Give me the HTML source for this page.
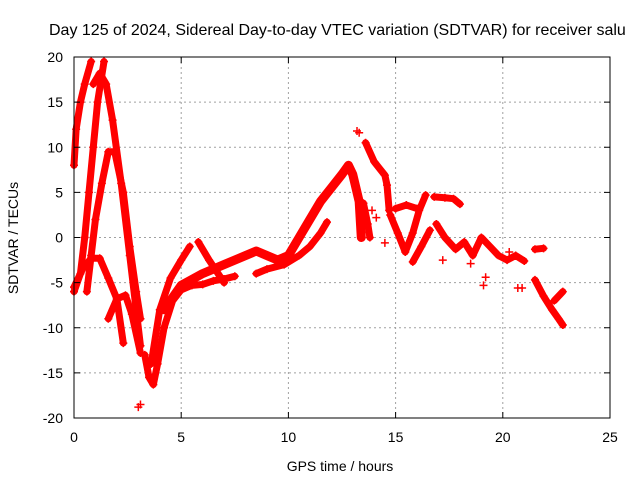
<!DOCTYPE html>
<html><head><meta charset="utf-8"><style>
body{margin:0;background:#fff}
svg{display:block;font-family:"Liberation Sans",Arial,sans-serif}
</style></head><body>
<svg id="chart" width="640" height="480" viewBox="0 0 640 480">
<rect width="640" height="480" fill="#fff"/>
<text x="49" y="35" font-size="16" fill="#000">Day 125 of 2024, Sidereal Day-to-day VTEC variation (SDTVAR) for receiver salu</text>
<g id="grid"></g>
<g id="series"></g>
<rect x="74" y="57" width="536" height="361" fill="none" stroke="#000" stroke-width="1"/>
<g id="ticks"></g>
<text x="340" y="471" font-size="14" text-anchor="middle">GPS time / hours</text>
<text transform="translate(18,238) rotate(-90)" font-size="14" text-anchor="middle">SDTVAR / TECUs</text>
</svg>
<script>
const xTicks=[0,5,10,15,20,25];
const yTicks=[-20,-15,-10,-5,0,5,10,15,20];
const trackA=[[0,8],[0.1,12],[0.3,15],[0.5,17],[0.8,19.5]];
const trackB=[[0,-6],[0.3,-4],[0.5,0],[0.7,5],[0.9,10],[1.1,15],[1.4,19.5]];
const trackC=[[0.9,17],[1.2,18.2],[1.5,17],[1.8,13],[2.2,6],[2.6,-2],[2.9,-8],[3.1,-12]];
const trackD=[[0.6,-6],[0.8,-2],[1.0,2],[1.3,6],[1.6,9.5],[1.9,9.5],[2.3,5],[2.6,-1],[2.9,-6],[3.1,-9]];
const trackE=[[0,-5.5],[0.4,-3.5],[0.8,-2.3],[1.2,-2.3],[1.6,-4.5],[2.0,-6.8],[2.4,-6.4],[2.7,-8.5],[3.1,-12.8]];
const trackF=[[1.6,-9],[2.0,-6.8],[2.3,-11.7]];
const trackV=[[3.3,-13],[3.5,-15.5],[3.7,-16.3],[3.9,-14],[4.2,-10],[4.6,-7],[5.0,-5.8],[5.5,-5.3],[6,-5.2],[6.5,-4.8],[7,-4.6],[7.5,-4.3]];
const trackW=[[3.6,-14],[4.0,-8],[4.5,-4.5],[5.0,-2.5],[5.4,-1]];
const trackU=[[4.2,-8],[5,-5.3],[6,-4],[7,-3],[8,-2],[8.5,-1.5],[9,-2],[9.5,-2.5],[10,-2],[10.5,0],[11,2],[11.5,4],[12,5.5],[12.5,7],[12.8,8],[13,7],[13.3,4],[13.4,0]];
const trackL=[[8.5,-4],[9,-3.5],[9.8,-3],[10.5,-2],[11,-1],[11.5,0.5],[11.8,1.7]];
const trackX=[[5.8,-0.5],[6.3,-2.5],[7,-5]];
const trackR1=[[13.6,10.5],[14.0,8.4],[14.5,6.9],[14.6,5.8],[14.7,3]];
const trackR2=[[13.5,3.8],[13.7,1.5],[13.8,0]];
const trackR3=[[14.75,2.5],[15.1,0.5],[15.45,-1.6],[15.8,0.5],[16.1,3],[16.4,4.7]];
const trackR4=[[15.0,3.2],[15.5,3.6],[16.0,3.2]];
const trackR5=[[15.8,-2.7],[16.2,-1],[16.6,0.8]];
const trackR6=[[16.8,4.5],[17.3,4.4],[17.7,4.3],[18,3.7]];
const trackR7=[[16.9,1.5],[17.3,0],[17.8,-1.3],[18.2,-0.5],[18.6,-2],[19,0],[19.4,-1],[19.8,-2],[20.2,-2.5],[20.6,-2],[21,-2.6]];
const trackR8=[[21.5,-1.3],[21.9,-1.2]];
const trackR9=[[21.5,-4.7],[21.9,-6.5],[22.3,-8],[22.6,-9],[22.8,-9.7]];
const trackR10=[[22.4,-7],[22.8,-6]];
const dots=[[3.0,-18.8],[3.1,-18.5],[13.2,11.8],[13.3,11.6],[14.5,-0.6],[19.1,-5.3],[19.2,-4.4],[20.7,-5.6],[20.9,-5.6],[13.9,3],[14.1,2.2],[17.2,-2.5],[18.5,-2.9],[20.3,-1.6]];
const tracks=[trackA,trackB,trackC,trackD,trackE,trackF,trackV,trackW,trackU,trackL,trackX,trackR1,trackR2,trackR3,trackR4,trackR5,trackR6,trackR7,trackR8,trackR9,trackR10];
const NS='http://www.w3.org/2000/svg';
const X0=74,X1=610,Y0=418,Y1=57;
function sx(t){return X0+(t-0)/(25-0)*(X1-X0);}
function sy(v){return Y0-(v+20)/40*(Y0-Y1);}
const grid=document.getElementById('grid'),ticks=document.getElementById('ticks'),ser=document.getElementById('series');
function mk(tag,attrs,parent){const e=document.createElementNS(NS,tag);for(const k in attrs)e.setAttribute(k,attrs[k]);parent.appendChild(e);return e;}
xTicks.forEach(t=>{
  const x=sx(t);
  if(t>0&&t<25){const g=mk('line',{x1:x,x2:x,y1:Y1,y2:Y0,stroke:'#a0a0a0','stroke-dasharray':'2,3'},grid);
  
  }
  mk('line',{x1:x,x2:x,y1:Y0,y2:Y0-6,stroke:'#000'},ticks);
  mk('line',{x1:x,x2:x,y1:Y1,y2:Y1+6,stroke:'#000'},ticks);
  const l=mk('text',{x:x,y:442,'font-size':14,'text-anchor':'middle'},ticks);l.textContent=t;
  
  
});
yTicks.forEach(v=>{
  const y=sy(v);
  if(v>-20&&v<20){const g=mk('line',{x1:X0,x2:X1,y1:y,y2:y,stroke:'#a0a0a0','stroke-dasharray':'2,3'},grid);
  
  }
  mk('line',{x1:X0,x2:X0+6,y1:y,y2:y,stroke:'#000'},ticks);
  mk('line',{x1:X1,x2:X1-6,y1:y,y2:y,stroke:'#000'},ticks);
  const l=mk('text',{x:63,y:y+5,'font-size':14,'text-anchor':'end'},ticks);l.textContent=v;
  
  
});
function plus(t,v){
  const x=sx(t),y=sy(v);
  const p=mk('path',{d:`M${x-4},${y}h8M${x},${y-4}v8`,stroke:'#ff0000','stroke-width':1.5},ser);
  
  
}
tracks.forEach(tr=>{
  const pl=mk('polyline',{points:tr.map(p=>sx(p[0])+','+sy(p[1])).join(' '),fill:'none',stroke:'#ff0000','stroke-width':(tr===trackU?9:7),'stroke-linejoin':'round','stroke-linecap':'round'},ser);
  
  
  tr.forEach(p=>plus(p[0],p[1]));
});
dots.forEach(p=>plus(p[0],p[1]));
</script>
</body></html>
